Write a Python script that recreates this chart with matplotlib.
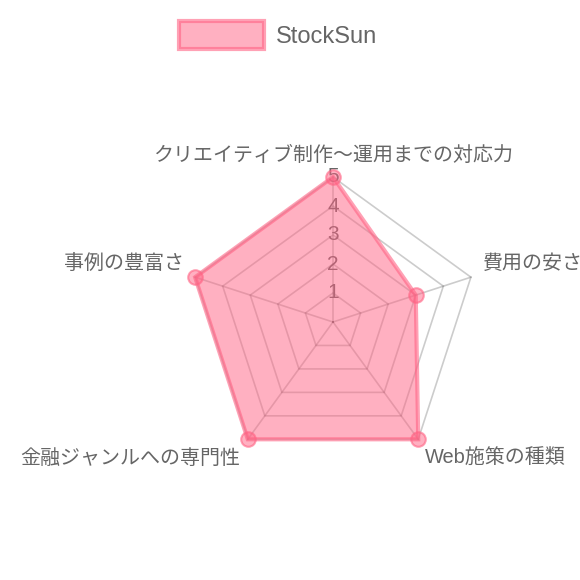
import numpy as np
import matplotlib
matplotlib.use("Agg")
import matplotlib.pyplot as plt
from matplotlib.patches import Polygon, Patch

plt.rcParams['font.family'] = ['Liberation Sans', 'Noto Sans CJK JP', 'DejaVu Sans']

# データ
labels = ["クリエイティブ制作〜運用までの対応力", "費用の安さ", "Web施策の種類",
          "金融ジャンルへの専門性", "事例の豊富さ"]
values = [5, 3, 5, 5, 5]
series_name = "StockSun"
ticks = [1, 2, 3, 4, 5]

pink = (1.0, 99 / 255, 132 / 255)
grey_text = "#666666"

# 1 unit = 29 px, centre at pixel (333, 322)
W, H = 580, 580
unit = 29.0
cx, cy = 333, 322

fig = plt.figure(figsize=(W / 100, H / 100), dpi=100)
ax = fig.add_axes([0, 0, 1, 1])
ax.set_xlim(-cx / unit, (W - cx) / unit)
ax.set_ylim(-(H - cy) / unit, cy / unit)
ax.axis("off")

n = len(labels)
ang = np.pi / 2 - np.arange(n) * 2 * np.pi / n
rmax = max(ticks)

# グリッド
for t in ticks:
    xs = t * np.cos(ang)
    ys = t * np.sin(ang)
    ax.add_patch(Polygon(np.column_stack([xs, ys]), closed=True, fill=False,
                         edgecolor=(0, 0, 0, 0.2), lw=1.2, zorder=1))
for a in ang:
    ax.plot([0, rmax * np.cos(a)], [0, rmax * np.sin(a)], color=(0, 0, 0, 0.2),
            lw=1.2, zorder=1)

# 目盛りラベル
for t in ticks:
    ax.text(0, t, str(t), ha="center", va="center", fontsize=15,
            color=grey_text, zorder=2)

# データ
v = np.array(values, dtype=float)
px = v * np.cos(ang)
py = v * np.sin(ang)
ax.add_patch(Polygon(np.column_stack([px, py]), closed=True,
                     facecolor=pink + (0.5,), edgecolor=pink + (0.6,), lw=3, zorder=3))
ax.scatter(px, py, s=110, color=pink + (0.5,), edgecolors=pink + (0.6,),
           linewidths=1.5, zorder=4)

# 軸ラベル
pad = 0.42
for lab, a in zip(labels, ang):
    deg = (90 - np.degrees(a)) % 360
    x = (rmax + pad) * np.cos(a)
    y = (rmax + pad) * np.sin(a)
    if np.isclose(deg, 0) or np.isclose(deg, 180):
        ha = "center"
    elif deg < 180:
        ha = "left"
    else:
        ha = "right"
    if deg > 270 or deg < 90:
        va = "bottom"
    elif np.isclose(deg, 90) or np.isclose(deg, 270):
        va = "center"
    else:
        va = "top"
    ax.text(x, y, lab, ha=ha, va=va, fontsize=14.4, color=grey_text, zorder=5)

# 凡例
handle = Patch(facecolor=pink + (0.5,), edgecolor=pink + (0.6,), lw=3)
fig.legend([handle], [series_name], loc="upper center", bbox_to_anchor=(0.48, 1.0),
           frameon=False, fontsize=17, labelcolor=grey_text,
           handlelength=3.6, handleheight=1.4, handletextpad=0.5)

fig.savefig("out.png", dpi=100)
